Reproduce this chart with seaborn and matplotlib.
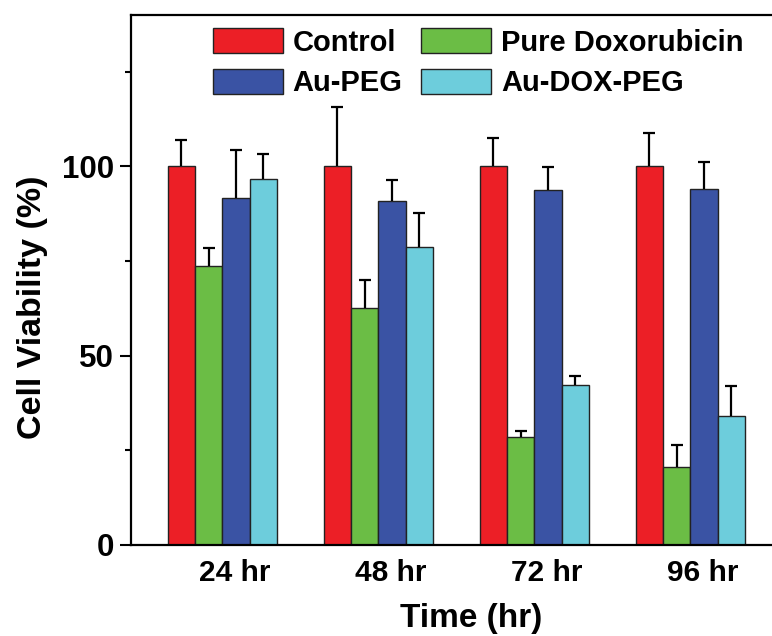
import numpy as np
import pandas as pd
import matplotlib
matplotlib.use("Agg")
import matplotlib.pyplot as plt
import seaborn as sns
from matplotlib.transforms import ScaledTranslation
from matplotlib.ticker import MultipleLocator

# ---- data ----
categories = ["24 hr", "48 hr", "72 hr", "96 hr"]
series_names = ["Control", "Pure Doxorubicin", "Au-PEG", "Au-DOX-PEG"]
control = [100, 100, 100, 100]
control_err = [7.0, 15.8, 7.6, 8.9]
pure_dox = [73.8, 62.6, 28.4, 20.6]
pure_dox_err = [4.7, 7.3, 1.7, 5.9]
au_peg = [91.7, 90.8, 93.7, 94.1]
au_peg_err = [12.6, 5.5, 6.2, 7.1]
au_dox_peg = [96.7, 78.7, 42.2, 34.2]
au_dox_peg_err = [6.5, 8.9, 2.5, 7.8]

colors = ["#EC1F26", "#6BBD45", "#3A53A4", "#6DCDDC"]

values = [control, pure_dox, au_peg, au_dox_peg]
errors = [control_err, pure_dox_err, au_peg_err, au_dox_peg_err]

rows = []
for name, vals in zip(series_names, values):
    for cat, v in zip(categories, vals):
        rows.append({"Time": cat, "Series": name, "Viability": v})
df = pd.DataFrame(rows)

sns.set_style("ticks")
plt.rcParams["font.family"] = ["Liberation Sans", "DejaVu Sans"]
plt.rcParams["font.weight"] = "bold"
for k in ["text.color", "axes.labelcolor", "xtick.color", "ytick.color", "axes.edgecolor"]:
    plt.rcParams[k] = "black"

fig = plt.figure(figsize=(7.72, 6.36), dpi=100)
ax = fig.add_axes([131 / 772, 91 / 636, 650.7 / 772, 530 / 636])

sns.barplot(data=df, x="Time", y="Viability", hue="Series",
            hue_order=series_names, order=categories,
            palette=colors, width=0.7, errorbar=None, saturation=1,
            edgecolor="#222222", linewidth=1.0, ax=ax, legend=True)

bar_containers = list(ax.containers)

# one-sided (upper) error bars
for cont, err in zip(bar_containers, errors):
    xs = [b.get_x() + b.get_width() / 2 for b in cont]
    ys = [b.get_height() for b in cont]
    _, caps, _ = ax.errorbar(xs, ys, yerr=[np.zeros(len(err)), err], fmt="none",
                             ecolor="black", elinewidth=1.6, capsize=4, capthick=1.6,
                             zorder=1)
    caps[0].set_visible(False)

ax.set_xlim(-0.585, 3.585)
ax.set_ylim(0, 140)
ax.yaxis.set_major_locator(MultipleLocator(50))
ax.yaxis.set_minor_locator(MultipleLocator(25))
ax.tick_params(axis="y", which="major", direction="out", length=8, width=1.5,
               labelsize=22.5, pad=4)
ax.tick_params(axis="y", which="minor", direction="out", length=4.3, width=1.5)
ax.tick_params(axis="x", which="major", length=0, labelsize=21.5, pad=10)

for lab in ax.get_xticklabels() + ax.get_yticklabels():
    lab.set_fontweight("bold")
for lab in ax.get_xticklabels():
    lab.set_transform(lab.get_transform() + ScaledTranslation(12 / 100, 0, fig.dpi_scale_trans))

for s in ["left", "bottom", "top"]:
    ax.spines[s].set_visible(True)
    ax.spines[s].set_linewidth(1.6)
    ax.spines[s].set_color("black")
ax.spines["right"].set_visible(False)

ax.set_xlabel("Time (hr)", fontsize=24, fontweight="bold")
ax.set_ylabel("Cell Viability (%)", fontsize=24.5, fontweight="bold")
ax.xaxis.set_label_coords(0.5225, -0.11)
ax.yaxis.set_label_coords(-0.128, 0.449)

ax.get_legend().remove()
handles = [c.patches[0] for c in bar_containers]
order = [0, 2, 1, 3]
leg = ax.legend([handles[i] for i in order], [series_names[i] for i in order],
                ncol=2, frameon=False, loc="upper left",
                bbox_to_anchor=(213 / 772, 1 - 28 / 636), bbox_transform=fig.transFigure,
                borderpad=0, borderaxespad=0, handlelength=2.4, handleheight=0.95,
                handletextpad=0.33, columnspacing=0.65, labelspacing=0.42,
                prop={"size": 21, "weight": "bold"})

fig.savefig("out.png", dpi=100)
